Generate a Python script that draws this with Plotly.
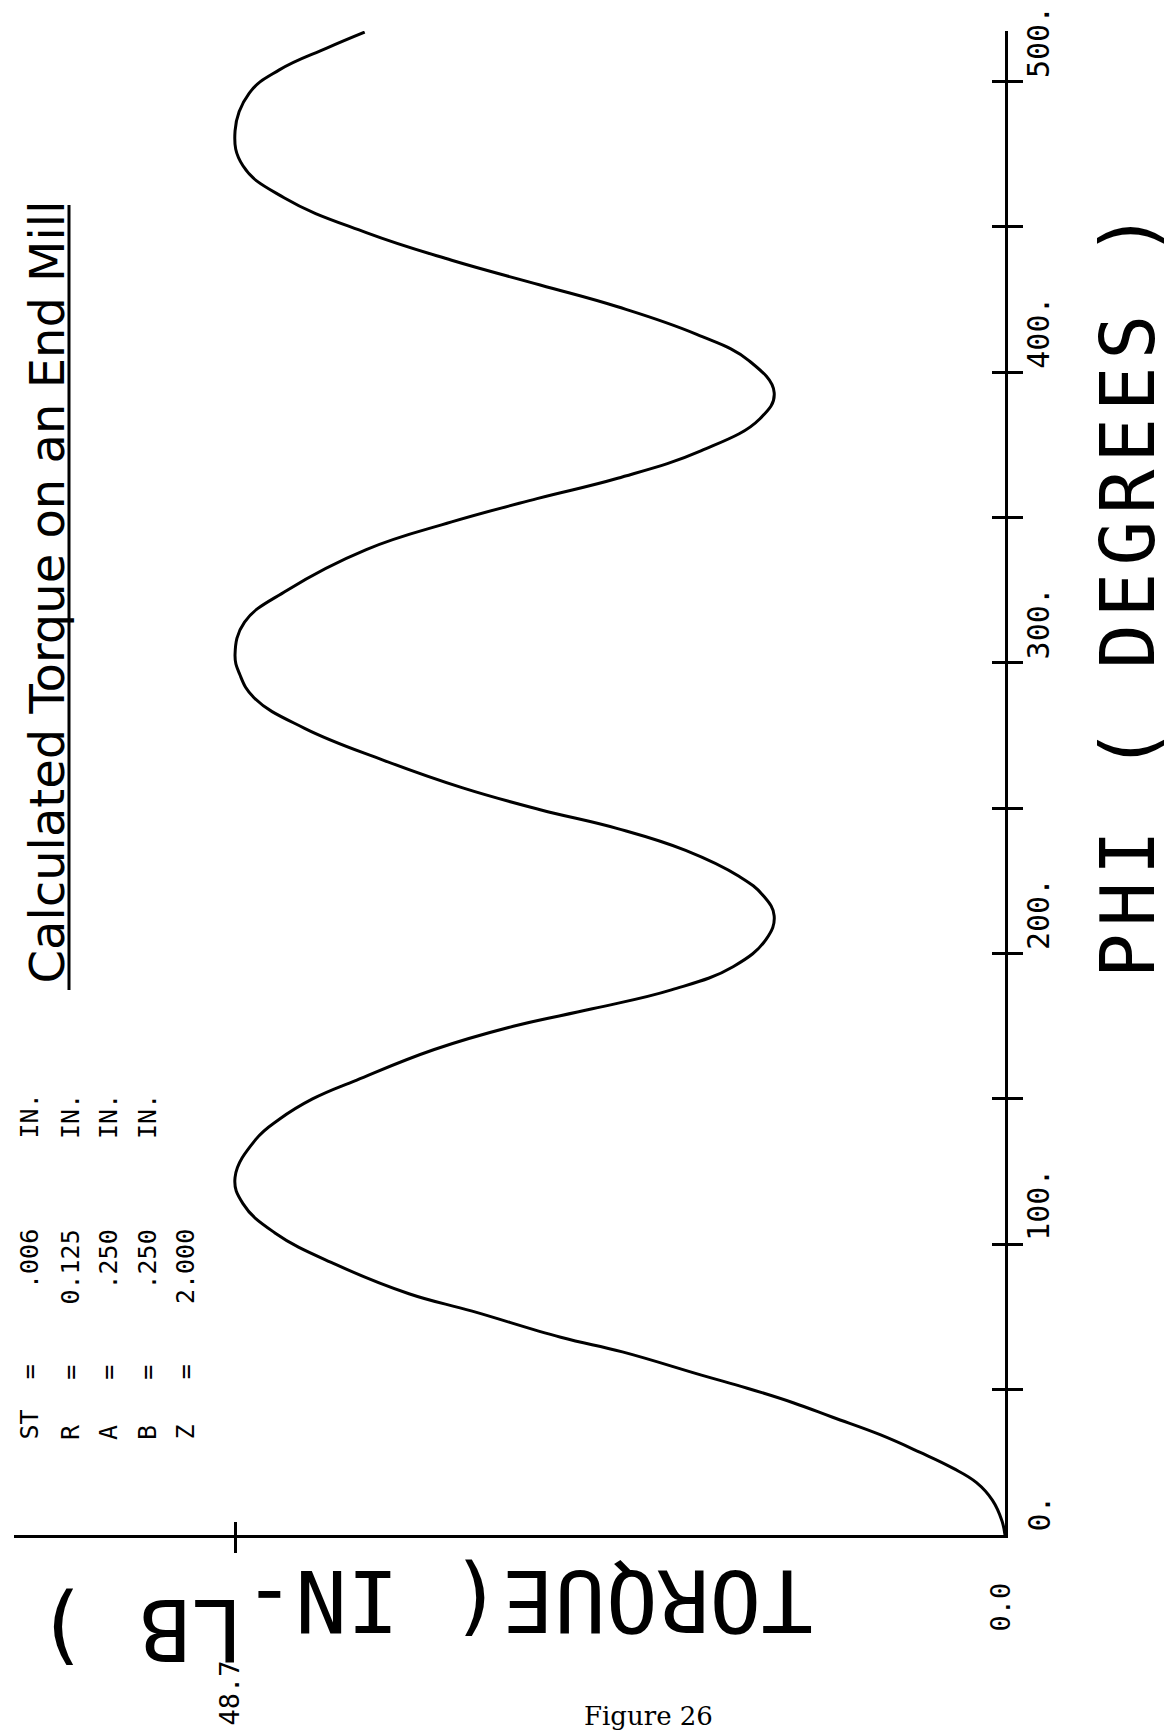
import plotly.graph_objects as go

# ---- data: cutter rotation angle (deg) and calculated torque (in-lb) ----
phi_deg = [0, 5, 12, 18, 23, 28.5, 34.5, 40.5, 45.5, 50.5, 55, 63, 68, 77, 83, 93,
           104, 114, 123, 136, 143, 150, 156.5, 167, 175, 181, 187.5, 195.5, 205,
           213, 220, 226.5, 235.5, 243, 249.5, 257, 266.5, 277.5, 288, 296, 303, 314,
           325, 339, 348.5, 356.5, 363.5, 373, 384, 393, 404, 413, 422.5, 430, 438.5,
           448, 460, 471, 483, 496, 504, 511.5, 517]
torque_inlb = [0.0, 0.2, 0.8, 1.8, 3.3, 5.4, 7.9, 10.9, 13.4, 16.3, 19.2, 24.2, 28.1,
               33.7, 37.7, 42.3, 46.2, 48.2, 48.7, 47.4, 45.9, 43.8, 41.0, 36.1, 31.1,
               26.1, 21.1, 17.2, 15.1, 14.6, 15.3, 16.8, 20.2, 24.5, 29.4, 34.3, 39.3,
               44.3, 47.5, 48.4, 48.7, 48.1, 45.4, 40.4, 35.0, 29.6, 24.5, 19.2, 15.5,
               14.6, 16.2, 19.5, 24.5, 29.4, 35.0, 40.4, 45.6, 48.2, 48.7, 47.8, 45.9,
               42.9, 40.5]

phi_ticks = [50, 100, 150, 200, 250, 300, 350, 400, 450, 500]
phi_label_vals = [0, 100, 200, 300, 400, 500]
phi_label_text = ["0.", "100.", "200.", "300.", "400.", "500."]
torque_label_vals = [0.0, 48.7]
torque_label_text = ["0.0", "48.7"]

param_names = ["ST", "R", "A", "B", "Z"]
param_values = [".006", "0.125", ".250", ".250", "2.000"]
param_units = ["IN.", "IN.", "IN.", "IN.", ""]

title_text = "Calculated Torque on an End Mill"
phi_title = "PHI ( DEGREES )"
torque_title_main = "TORQUE( IN-"
torque_title_tail = "LB )"
caption = "Figure 26"

# ---- page geometry (pixels) ----
W, H = 1175, 1733
L, R, T, B = 14, 170, 31, 198
X0, X1 = L, W - R          # plot area left / right
Y0, Y1 = T, H - B          # plot area top / bottom
PX_PER_INLB = 15.81
PX_PER_DEG = 2.907
x_max = (X1 - X0) / PX_PER_INLB
y_max = (Y1 - Y0) / PX_PER_DEG


def paper_x(px):
    return (px - X0) / (X1 - X0)


def paper_y(py):
    return (Y1 - py) / (Y1 - Y0)


MONO = "DejaVu Sans Mono"
INK = "black"

fig = go.Figure()
fig.add_trace(go.Scatter(
    x=torque_inlb, y=phi_deg, mode="lines",
    line=dict(color=INK, width=3, shape="spline", smoothing=1.2),
    cliponaxis=False, showlegend=False, hoverinfo="skip"))
# carrier trace for the overlay axes that draw the inner half of each tick
fig.add_trace(go.Scatter(x=[None], y=[None], xaxis="x2", yaxis="y2",
                         showlegend=False, hoverinfo="skip"))

axis_common = dict(showgrid=False, zeroline=False, showticklabels=False,
                   tickcolor=INK, tickwidth=3, fixedrange=True)

fig.update_layout(
    width=W, height=H,
    margin=dict(l=L, r=R, t=T, b=B, pad=0),
    paper_bgcolor="white", plot_bgcolor="white",
    xaxis=dict(range=[x_max, 0], domain=[0, 1], anchor="y", side="bottom",
               showline=True, linecolor=INK, linewidth=3,
               ticks="outside", ticklen=15, tickvals=[48.7], **axis_common),
    xaxis2=dict(range=[x_max, 0], overlaying="x", anchor="y", side="bottom",
                showline=False, ticks="inside", ticklen=13, tickvals=[48.7],
                **axis_common),
    yaxis=dict(range=[0, y_max], domain=[0, 1], anchor="x", side="right",
               showline=True, linecolor=INK, linewidth=3,
               ticks="outside", ticklen=15, tickvals=phi_ticks, **axis_common),
    yaxis2=dict(range=[0, y_max], overlaying="y", anchor="x", side="right",
                showline=False, ticks="inside", ticklen=13, tickvals=phi_ticks,
                **axis_common),
)

ann = []

# PHI tick labels, written upward from each tick
for v, t in zip(phi_label_vals, phi_label_text):
    ann.append(dict(x=1, xref="paper", y=v, yref="y", text=t, textangle=-90,
                    xanchor="left", yanchor="bottom", xshift=14, yshift=1,
                    showarrow=False, font=dict(family=MONO, size=30, color=INK)))

# torque tick labels below the horizontal axis
torque_label_shift = [(-5, -46), (-6, -124)]
for v, t, (dx, dy) in zip(torque_label_vals, torque_label_text, torque_label_shift):
    ann.append(dict(x=v, xref="x", y=0, yref="paper", text=t, textangle=-90,
                    xanchor="center", yanchor="top", xshift=dx, yshift=dy,
                    showarrow=False, font=dict(family=MONO, size=27, color=INK)))

# axis titles
ann.append(dict(x=paper_x(1128), xref="paper", y=paper_y(592), yref="paper",
                text='<span style="letter-spacing:7px">' + phi_title + "</span>",
                textangle=-90, xanchor="center", yanchor="middle",
                showarrow=False, font=dict(family=MONO, size=74, color=INK)))
ann.append(dict(x=paper_x(815), xref="paper", y=paper_y(1601), yref="paper",
                text=torque_title_main.replace(" ", "\u00a0"), textangle=180,
                xanchor="right", yanchor="middle",
                showarrow=False, font=dict(family=MONO, size=86, color=INK)))
ann.append(dict(x=paper_x(245), xref="paper", y=paper_y(1630), yref="paper",
                text=torque_title_tail.replace(" ", "\u00a0"), textangle=180,
                xanchor="right", yanchor="middle",
                showarrow=False, font=dict(family=MONO, size=86, color=INK)))

# chart title with underline
ann.append(dict(x=paper_x(46), xref="paper", y=paper_y(986), yref="paper",
                text=title_text, textangle=-90, xanchor="center", yanchor="bottom",
                showarrow=False,
                font=dict(family="DejaVu Sans", size=48, color=INK)))

# cutter parameter block, one rotated line per parameter
param_x = [28.5, 70, 108, 147, 185]
for name, val, unit, px in zip(param_names, param_values, param_units, param_x):
    dot = val.index(".")
    line = name.ljust(4) + "=" + " " * (5 - dot) + val
    if unit:
        line = line.ljust(20) + unit
    ann.append(dict(x=paper_x(px), xref="paper", y=paper_y(1442), yref="paper",
                    text=line.replace(" ", "\u00a0"), textangle=-90,
                    xanchor="center", yanchor="bottom", showarrow=False,
                    font=dict(family=MONO, size=25, color=INK)))

# caption
ann.append(dict(x=paper_x(648), xref="paper", y=paper_y(1716), yref="paper",
                text=caption, xanchor="center", yanchor="middle", showarrow=False,
                font=dict(family="DejaVu Serif", size=26, color=INK)))

fig.update_layout(annotations=ann)

fig.add_shape(type="line", xref="paper", yref="paper",
              x0=paper_x(69), x1=paper_x(69), y0=paper_y(205), y1=paper_y(990),
              line=dict(color=INK, width=3))

fig.write_html("out.html")
